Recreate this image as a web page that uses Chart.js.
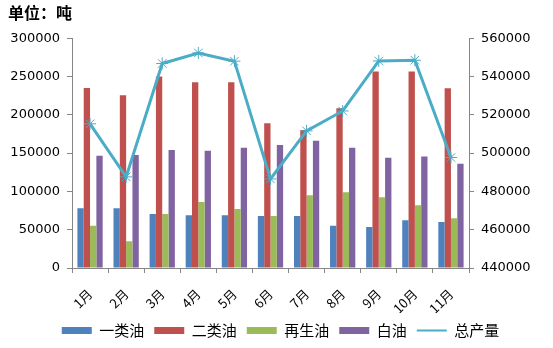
<!DOCTYPE html>
<html>
<head>
<meta charset="utf-8">
<script src="https://cdn.jsdelivr.net/npm/chart.js@4.4.1/dist/chart.umd.min.js"></script>
<style>
  html, body { margin: 0; padding: 0; background: #fff; }
  #wrap { width: 553px; height: 348px; }
</style>
</head>
<body>
<div id="wrap"><canvas id="oilChart" width="553" height="348"></canvas></div>
<script>
const months = ["1月", "2月", "3月", "4月", "5月", "6月", "7月", "8月", "9月", "10月", "11月"];
const oilClass1 = [78000, 78000, 70500, 69000, 69000, 68000, 68000, 55000, 53500, 62500, 60000];
const oilClass2 = [235000, 225500, 250000, 242500, 242500, 189000, 180000, 208500, 256500, 256500, 234500];
const recycledOil = [55000, 35000, 70500, 86000, 77000, 68000, 95000, 99000, 92500, 82000, 65000];
const whiteOil = [146500, 147500, 154000, 153000, 157000, 160500, 166000, 157000, 144000, 145500, 136000];
const totalOutput = [515300, 487600, 546800, 552300, 548000, 486500, 511600, 522000, 548100, 548500, 497700];

const leftTicks = { min: 0, max: 300000, step: 50000 };
const rightTicks = { min: 440000, max: 560000, step: 20000 };

const axisGray = "#868686";
const numFont = { family: "'DejaVu Sans', sans-serif", size: 13 };
const cjkFont = "'Noto Sans CJK SC', 'DejaVu Sans', sans-serif";
const plainNumber = (v) => String(v);

function barSet(label, data, color) {
  return {
    type: "bar",
    label: label,
    data: data,
    backgroundColor: color,
    borderWidth: 0,
    yAxisID: "y",
    order: 1,
    pointStyle: "rect",
    categoryPercentage: 0.7,
    barPercentage: 1.0
  };
}

new Chart(document.getElementById("oilChart"), {
  data: {
    labels: months,
    datasets: [
      barSet("一类油", oilClass1, "#4F81BD"),
      barSet("二类油", oilClass2, "#C0504D"),
      barSet("再生油", recycledOil, "#9BBB59"),
      barSet("白油", whiteOil, "#8064A2"),
      {
        type: "line",
        label: "总产量",
        data: totalOutput,
        yAxisID: "y1",
        order: 0,
        borderColor: "#4BACC6",
        backgroundColor: "#4BACC6",
        borderWidth: 3,
        tension: 0,
        pointStyle: "star",
        pointRadius: 6,
        pointBorderWidth: 1,
        pointBorderColor: "#4BACC6"
      }
    ]
  },
  options: {
    responsive: false,
    animation: false,
    layout: { padding: { left: 8, right: 0, top: 0, bottom: 0 } },
    plugins: {
      tooltip: { enabled: false },
      title: {
        display: true,
        text: "单位：吨",
        align: "start",
        color: "#000",
        font: { family: cjkFont, size: 16, weight: "bold" },
        padding: { top: 3, bottom: 16 }
      },
      legend: {
        position: "bottom",
        labels: {
          color: "#000",
          font: { family: cjkFont, size: 15 },
          usePointStyle: true,
          pointStyleWidth: 30,
          boxHeight: 7,
          padding: 10,
          sort: (a, b) => a.datasetIndex - b.datasetIndex,
          generateLabels(chart) {
            const items = Chart.defaults.plugins.legend.labels.generateLabels(chart);
            items.forEach((it) => {
              if (chart.data.datasets[it.datasetIndex].type === "line") {
                it.pointStyle = "line";
                it.lineWidth = 2;
              } else {
                it.pointStyle = "rect";
                it.lineWidth = 0;
              }
            });
            return items;
          }
        }
      }
    },
    scales: {
      x: {
        offset: true,
        grid: { drawOnChartArea: false, offset: true, color: axisGray, tickLength: 5 },
        border: { color: axisGray },
        ticks: { color: "#000", font: { family: cjkFont, size: 13 }, minRotation: 45, maxRotation: 45, padding: 13 },
        afterFit(scale) { scale.height = 45; }
      },
      y: {
        position: "left",
        min: leftTicks.min,
        max: leftTicks.max,
        grid: { drawOnChartArea: false, color: axisGray, tickLength: 5 },
        border: { color: axisGray },
        ticks: { stepSize: leftTicks.step, color: "#000", font: numFont, padding: 7, callback: plainNumber },
        afterFit(scale) { scale.width = 64; }
      },
      y1: {
        position: "right",
        min: rightTicks.min,
        max: rightTicks.max,
        grid: { drawOnChartArea: false, color: axisGray, tickLength: 5 },
        border: { color: axisGray },
        ticks: { stepSize: rightTicks.step, color: "#000", font: numFont, padding: 7, callback: plainNumber },
        afterFit(scale) { scale.width = 84; }
      }
    }
  }
});
</script>
</body>
</html>
